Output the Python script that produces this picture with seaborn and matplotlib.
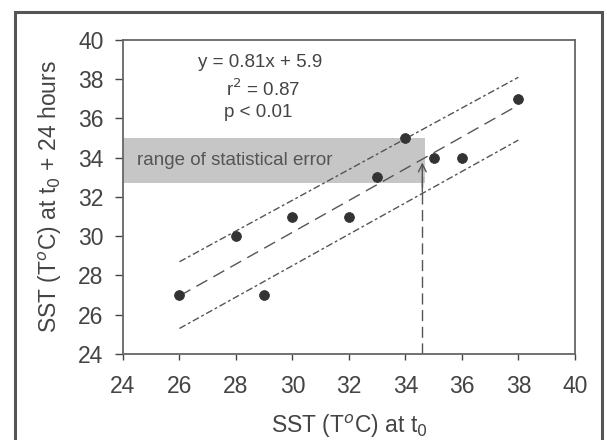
import numpy as np
import pandas as pd
import seaborn as sns
import matplotlib.pyplot as plt
from matplotlib.patches import Rectangle

# observed SST pairs
sst_t0 = [26, 28, 29, 30, 32, 33, 34, 35, 36, 38]
sst_t24 = [27, 30, 27, 31, 31, 33, 35, 34, 34, 37]

# regression line and error bounds (end points)
line_x = [26, 38]
fit_y = [26.96, 36.68]
upper_y = [28.7, 38.1]
lower_y = [25.3, 34.9]

# shaded error band and the forecast arrow
band_x = [24, 34.7]
band_y = [32.7, 35.0]
arrow_x = 34.6
arrow_y = [24, 33.9]

sns.set_style('white')
plt.rcParams['font.family'] = ['Liberation Sans', 'DejaVu Sans']
grey = '#555555'
txt = '#444444'

fig = plt.figure(figsize=(6.07, 4.40), dpi=100)
ax = fig.add_axes([0.2026, 0.1955, 0.7444, 0.7136])

ax.add_patch(Rectangle((band_x[0], band_y[0]), band_x[1] - band_x[0], band_y[1] - band_y[0],
                       facecolor='#c6c6c6', edgecolor='none', zorder=0))
ax.text(24.5, (band_y[0] + band_y[1]) / 2, 'range of statistical error', fontsize=13.5,
        color='#555555', va='center', ha='left')

lines = pd.DataFrame({'x': line_x * 3, 'y': fit_y + upper_y + lower_y,
                      'kind': ['fit'] * 2 + ['upper'] * 2 + ['lower'] * 2})
sns.lineplot(data=lines[lines['kind'] == 'fit'], x='x', y='y', ax=ax, color=grey,
             lw=1, linestyle=(0, (9, 5)))
for k in ['upper', 'lower']:
    sns.lineplot(data=lines[lines['kind'] == k], x='x', y='y', ax=ax, color=grey,
                 lw=1, linestyle=(0, (5, 2, 2, 2)))

sns.scatterplot(x=sst_t0, y=sst_t24, ax=ax, color='#333333', s=50, edgecolor='#333333', zorder=5)

ax.plot([arrow_x, arrow_x], [arrow_y[0], arrow_y[1] - 0.3], color=grey, lw=1, linestyle=(0, (8, 4)))
ax.annotate('', xy=(arrow_x, arrow_y[1]), xytext=(arrow_x, arrow_y[1] - 1.8),
            arrowprops=dict(arrowstyle='->', color=grey, lw=1, mutation_scale=14))

ax.text(28.85, 38.85, 'y = 0.81x + 5.9', fontsize=13.5, color=txt, ha='center', va='center')
ax.text(28.95, 37.5, 'r$^2$ = 0.87', fontsize=13.5, color=txt, ha='center', va='center')
ax.text(28.8, 36.3, 'p < 0.01', fontsize=13.5, color=txt, ha='center', va='center')

ax.set_xlim(24, 40)
ax.set_ylim(24, 40)
ax.set_xticks(range(24, 41, 2))
ax.set_yticks(range(24, 41, 2))
ax.tick_params(axis='both', labelsize=16.5, colors=txt, width=1, direction='out',
               bottom=True, left=True)
ax.tick_params(axis='x', length=4, pad=11)
ax.tick_params(axis='y', length=6, pad=8)
ax.set_xlabel('SST (T$^{o}$C) at t$_{0}$', fontsize=16.5, color=txt, labelpad=11)
ax.set_ylabel('SST (T$^{o}$C) at t$_{0}$ + 24 hours', fontsize=16.5, color=txt, labelpad=10)
for s in ax.spines.values():
    s.set_color('#666666')
    s.set_linewidth(1.3)

fig.patches.append(Rectangle((15 / 607, -0.01), 587 / 607, 1 - 12 / 440 + 0.01,
                             transform=fig.transFigure, fill=False, edgecolor='#555555',
                             lw=2.2, clip_on=False))

fig.savefig('out.png', dpi=100)
